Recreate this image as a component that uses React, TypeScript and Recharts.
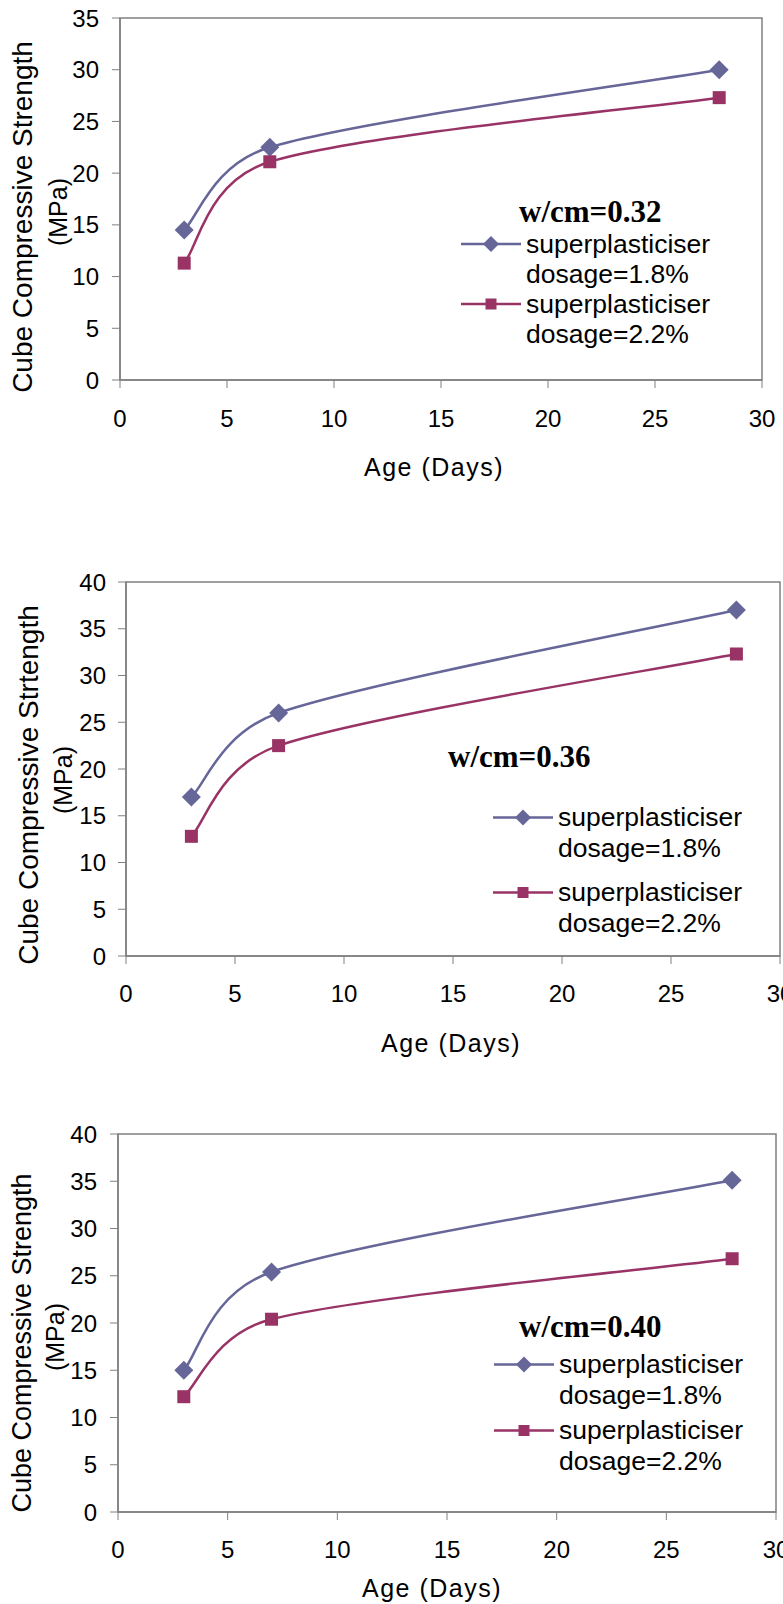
import React from 'react';
import { LineChart, Line, XAxis, YAxis, ReferenceArea, Legend } from 'recharts';

// age in days
const ages = [3, 7, 28];
const xTicks = [0, 5, 10, 15, 20, 25, 30];
const yTicks35 = [0, 5, 10, 15, 20, 25, 30, 35];
const yTicks40 = [0, 5, 10, 15, 20, 25, 30, 35, 40];
const seriesNames = ['superplasticiser dosage=1.8%', 'superplasticiser dosage=2.2%'];

// cube compressive strength, MPa
const w032Dose18 = [14.5, 22.5, 30.0];
const w032Dose22 = [11.3, 21.1, 27.3];
const w036Dose18 = [17.0, 26.0, 37.0];
const w036Dose22 = [12.8, 22.5, 32.3];
const w040Dose18 = [15.0, 25.4, 35.1];
const w040Dose22 = [12.2, 20.4, 26.8];

const BLUE = '#666699';
const RED = '#993366';
const AXIS = '#808080';
const SANS = '"Liberation Sans", Arial, sans-serif';
const SERIF = '"Liberation Serif", "Times New Roman", serif';

const toRows = (a: number[], b: number[]) => ages.map((age, i) => ({ age, s1: a[i], s2: b[i] }));

// spreadsheet-style smoothed line: bezier with 1/6 neighbour tangents,
// clamped to half the segment so short segments don't loop
function smoothCurve(context: any) {
  let pts: [number, number][] = [];
  const clamp = (dx: number, dy: number, max: number): [number, number] => {
    const len = Math.hypot(dx, dy);
    if (len <= max || len === 0) return [dx, dy];
    return [(dx * max) / len, (dy * max) / len];
  };
  return {
    areaStart() {},
    areaEnd() {},
    lineStart() { pts = []; },
    point(x: number, y: number) { pts.push([+x, +y]); },
    lineEnd() {
      const n = pts.length;
      if (!n) return;
      context.moveTo(pts[0][0], pts[0][1]);
      for (let i = 0; i < n - 1; i++) {
        const p0 = pts[Math.max(i - 1, 0)];
        const p1 = pts[i];
        const p2 = pts[i + 1];
        const p3 = pts[Math.min(i + 2, n - 1)];
        const half = Math.hypot(p2[0] - p1[0], p2[1] - p1[1]) / 2;
        const a = clamp((p2[0] - p0[0]) / 6, (p2[1] - p0[1]) / 6, half);
        const b = clamp((p3[0] - p1[0]) / 6, (p3[1] - p1[1]) / 6, half);
        context.bezierCurveTo(p1[0] + a[0], p1[1] + a[1], p2[0] - b[0], p2[1] - b[1], p2[0], p2[1]);
      }
    },
  };
}

function diamondPath(cx: number, cy: number, r: number) {
  return `M${cx},${cy - r}L${cx + r},${cy}L${cx},${cy + r}L${cx - r},${cy}Z`;
}

const DiamondDot = (props: any) => {
  const { cx, cy, index } = props;
  if (cx == null || cy == null) return <g key={`d-${index}`} />;
  return <path key={`d-${index}`} d={diamondPath(cx, cy, 9.5)} fill={BLUE} />;
};

const SquareDot = (props: any) => {
  const { cx, cy, index } = props;
  if (cx == null || cy == null) return <g key={`s-${index}`} />;
  return <rect key={`s-${index}`} x={cx - 6.5} y={cy - 6.5} width={13} height={13} fill={RED} />;
};

interface PanelProps {
  top: number;
  height: number;
  margin: { top: number; right: number; left: number; bottom: number };
  yWidth: number;
  xHeight: number;
  yMax: number;
  yTicks: number[];
  data: { age: number; s1: number; s2: number }[];
  yLine1: string;
  yLabelX: [number, number];
  yLabelDy: [number, number];
  yFont: number;
  xLabelDx: number;
  xLabelDy: number;
  title: string;
  legendLeft: number;
  legendTop: number;
  titleIndent: number;
  titleGap: number;
  itemGap: number;
  rowHeight: number;
  xTickMargin: number;
  yTickMargin: number;
}

function Panel(p: PanelProps) {
  const renderYLabel = (props: any) => {
    const vb = props.viewBox || {};
    const mid = vb.y + vb.height / 2;
    const y1 = mid + p.yLabelDy[0];
    const y2 = mid + p.yLabelDy[1];
    return (
      <g>
        <text x={p.yLabelX[0]} y={y1} transform={`rotate(-90 ${p.yLabelX[0]} ${y1})`} textAnchor="middle"
          dominantBaseline="central" fontFamily={SANS} fontSize={p.yFont} fill="#000">{p.yLine1}</text>
        <text x={p.yLabelX[1]} y={y2} transform={`rotate(-90 ${p.yLabelX[1]} ${y2})`} textAnchor="middle"
          dominantBaseline="central" fontFamily={SANS} fontSize={25} fill="#000">(MPa)</text>
      </g>
    );
  };

  const renderXLabel = (props: any) => {
    const vb = props.viewBox || {};
    return (
      <text x={vb.x + vb.width / 2 + p.xLabelDx} y={vb.y + p.xLabelDy} textAnchor="middle" dominantBaseline="central"
        fontFamily={SANS} fontSize={25} letterSpacing={1.5} fill="#000">Age (Days)</text>
    );
  };

  const renderLegend = (props: any) => {
    const payload = props.payload || [];
    return (
      <div style={{ fontFamily: SANS, color: '#000' }}>
        <div style={{ fontFamily: SERIF, fontWeight: 'bold', fontSize: 31, lineHeight: '34px', marginLeft: p.titleIndent, marginBottom: p.titleGap, whiteSpace: 'nowrap' }}>
          {p.title}
        </div>
        {payload.map((entry: any, i: number) => {
          const mid = p.rowHeight / 2;
          const words = String(entry.value).split(' ');
          return (
            <div key={i} style={{ display: 'flex', alignItems: 'flex-start', marginTop: i ? p.itemGap : 0 }}>
              <svg width={60} height={p.rowHeight} style={{ flex: 'none', marginRight: 5 }}>
                <line x1={0} x2={60} y1={mid} y2={mid} stroke={entry.color} strokeWidth={2.5} />
                {i === 0
                  ? <path d={diamondPath(30, mid, 8)} fill={BLUE} />
                  : <rect x={24.5} y={mid - 5.5} width={11} height={11} fill={RED} />}
              </svg>
              <div style={{ fontSize: 26.5, lineHeight: `${p.rowHeight}px`, whiteSpace: 'nowrap' }}>
                {words.map((w, k) => <div key={k}>{w}</div>)}
              </div>
            </div>
          );
        })}
      </div>
    );
  };

  return (
    <div style={{ position: 'absolute', left: 0, top: p.top }}>
      <LineChart width={783} height={p.height} data={p.data} margin={p.margin}>
        <XAxis dataKey="age" type="number" domain={[0, 30]} ticks={xTicks} interval={0} height={p.xHeight}
          axisLine={{ stroke: AXIS, strokeWidth: 1.5 }} tickLine={{ stroke: AXIS }} tickSize={8} tickMargin={p.xTickMargin}
          tick={{ fill: '#000', fontSize: 24, fontFamily: SANS }} label={renderXLabel} />
        <YAxis type="number" domain={[0, p.yMax]} ticks={p.yTicks} interval={0} width={p.yWidth}
          axisLine={{ stroke: AXIS, strokeWidth: 1.5 }} tickLine={{ stroke: AXIS }} tickSize={8} tickMargin={p.yTickMargin}
          tick={{ fill: '#000', fontSize: 24, fontFamily: SANS }} label={renderYLabel} />
        <ReferenceArea x1={0} x2={30} y1={0} y2={p.yMax} fill="none" stroke={AXIS} strokeWidth={1.5} />
        <Legend layout="vertical" align="center" verticalAlign="middle" content={renderLegend}
          wrapperStyle={{ left: p.legendLeft, top: p.legendTop, width: 320, height: 'auto' }} />
        <Line type={smoothCurve as any} dataKey="s1" name={seriesNames[0]} stroke={BLUE} strokeWidth={2.5}
          dot={DiamondDot} activeDot={false} isAnimationActive={false} />
        <Line type={smoothCurve as any} dataKey="s2" name={seriesNames[1]} stroke={RED} strokeWidth={2.5}
          dot={SquareDot} activeDot={false} isAnimationActive={false} />
      </LineChart>
    </div>
  );
}

export default function App() {
  return (
    <div style={{ position: 'absolute', left: 0, top: 0, width: 783, height: 1604, background: '#fff' }}>
      <Panel
        top={0} height={500} margin={{ top: 18, right: 21, left: 0, bottom: 0 }} yWidth={120} xHeight={120}
        yMax={35} yTicks={yTicks35} data={toRows(w032Dose18, w032Dose22)}
        yLine1="Cube Compressive Strength" yLabelX={[22, 58]} yLabelDy={[18, 13]} yFont={28}
        xLabelDx={-7} xLabelDy={87} xTickMargin={22} yTickMargin={13}
        title="w/cm=0.32" legendLeft={461} legendTop={195} titleIndent={58} titleGap={0} itemGap={0} rowHeight={30}
      />
      <Panel
        top={540} height={520} margin={{ top: 42, right: 3, left: 0, bottom: 0 }} yWidth={126} xHeight={104}
        yMax={40} yTicks={yTicks40} data={toRows(w036Dose18, w036Dose22)}
        yLine1="Cube Compressive Strtength" yLabelX={[28, 63]} yLabelDy={[16, 11]} yFont={28}
        xLabelDx={-2} xLabelDy={87} xTickMargin={21} yTickMargin={12}
        title="w/cm=0.36" legendLeft={493} legendTop={200} titleIndent={-45} titleGap={28} itemGap={13} rowHeight={31}
      />
      <Panel
        top={1100} height={504} margin={{ top: 34, right: 7, left: 0, bottom: 0 }} yWidth={118} xHeight={92}
        yMax={40} yTicks={yTicks40} data={toRows(w040Dose18, w040Dose22)}
        yLine1="Cube Compressive Strength" yLabelX={[22, 55]} yLabelDy={[20, 14]} yFont={27}
        xLabelDx={-15} xLabelDy={76} xTickMargin={21} yTickMargin={13}
        title="w/cm=0.40" legendLeft={494} legendTop={210} titleIndent={25} titleGap={5} itemGap={4} rowHeight={31}
      />
    </div>
  );
}
